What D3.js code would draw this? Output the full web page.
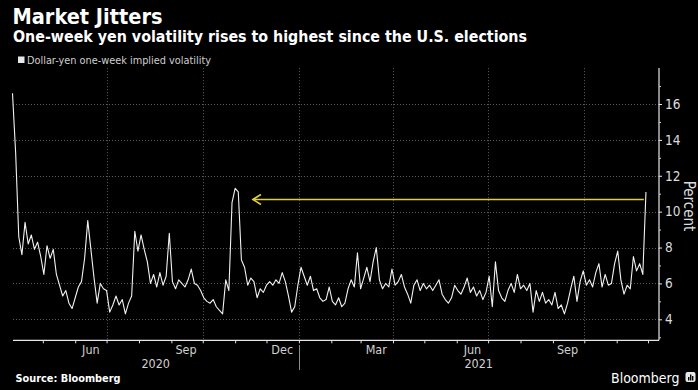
<!DOCTYPE html>
<html><head><meta charset="utf-8">
<script src="https://cdn.jsdelivr.net/npm/d3@7"></script>
<style>
html,body{margin:0;padding:0;background:#000;}
svg{display:block;}
</style></head><body>
<svg id="c" width="698" height="390"></svg>
<script>
const title = "Market Jitters";
const subtitle = "One-week yen volatility rises to highest since the U.S. elections";
const legendLabel = "Dollar-yen one-week implied volatility";
const sourceText = "Source: Bloomberg";
const brandText = "Bloomberg";
const yAxisTitle = "Percent";

// series: one reading every 3 calendar days starting 2020-04-02
const startDate = "2020-04-02";
const stepDays = 3;
const vol = [
16.6,13.3,8.6,7.6,9.4,8.2,8.7,7.9,8.3,7.5,
6.5,8.1,7.4,7.9,6.5,5.9,5.3,5.6,4.9,4.6,
5.2,5.8,6.1,7.4,9.5,7.9,6.3,4.9,6.0,5.7,
5.6,4.4,4.8,5.3,4.8,5.1,4.3,4.9,5.3,8.9,
7.8,8.7,7.9,7.2,6.0,6.5,5.8,6.6,5.9,6.4,
8.8,6.1,5.7,6.2,6.0,5.8,6.2,6.8,6.0,5.9,
5.6,5.2,5.0,4.9,5.1,4.7,4.5,4.3,6.2,5.6,
10.5,11.3,11.1,7.3,6.9,5.9,6.3,6.1,5.2,5.7,
5.5,5.9,6.1,5.9,6.2,6.0,6.6,6.1,5.3,4.4,
4.7,5.9,6.9,6.4,5.9,6.4,5.6,5.7,5.2,5.0,
5.1,5.8,5.0,4.8,5.2,4.7,4.9,5.7,6.2,5.8,
7.7,5.7,6.3,6.9,6.1,7.2,8.0,6.2,5.7,6.0,
5.8,6.8,5.9,6.1,6.5,5.8,5.4,4.9,5.9,6.2,
5.6,6.0,5.7,5.9,5.6,5.9,6.2,5.4,5.1,4.9,
5.2,5.9,5.6,5.4,5.8,6.3,5.5,5.8,5.3,5.6,
5.1,5.5,6.4,4.7,7.2,5.6,5.2,5.0,5.6,6.0,
5.5,6.5,5.7,5.9,5.6,6.0,4.4,5.6,5.0,5.5,
4.9,5.1,4.8,5.5,4.6,4.8,4.3,4.9,5.7,6.4,
5.0,6.1,6.7,5.9,6.2,5.8,6.6,7.1,5.8,6.5,
5.9,6.0,7.1,7.8,6.2,5.4,5.9,5.7,7.5,6.7,
7.1,6.5,11.1
];

const yTickValues = [4,6,8,10,12,14,16];
const yMinorValues = [3,5,7,9,11,13,15,17];
const monthLabels = ["Jun","Sep","Dec","Mar","Jun","Sep"];
const monthLabelDates = ["2020-06-16","2020-09-15","2020-12-16","2021-03-16","2021-06-16","2021-09-15"];
const quarterDates = ["2020-07-01","2020-10-01","2021-01-01","2021-04-01","2021-07-01","2021-10-01"];
const yearLabels = ["2020","2021"];
const yearStarts = ["2020-04-02","2021-01-01"];
const yearEnds = ["2021-01-01","2021-12-11"];
const arrowLevel = 10.68;
const arrowHeadDate = "2020-11-18";
const arrowTailDate = "2021-11-27";

const parse = d3.utcParse("%Y-%m-%d");
const t0 = parse(startDate);
const data = vol.map((v,i)=>({date: d3.utcDay.offset(t0, i*stepDays), value: v}));

const svg = d3.select("#c");
const W = 698, H = 390;
svg.append("rect").attr("width",W).attr("height",H).attr("fill","#000");

const x = d3.scaleUtc().domain([parse("2020-04-02"), parse("2021-12-11")]).range([12.5, 658.5]);
const y = d3.scaleLinear().domain([4,16]).range([319.3,104]);
const plotTop = y(18), plotBottom = 340.3, plotLeft = 13, plotRight = 659;

const condensed = "'Liberation Sans Narrow','DejaVu Sans Condensed','Arial Narrow',sans-serif";
function fit(sel, w){
  const L = sel.node().getComputedTextLength();
  if (Math.abs(L - w) > 0.5) sel.attr("textLength", w).attr("lengthAdjust","spacingAndGlyphs");
  return sel;
}

// gridlines
const grid = svg.append("g").attr("stroke","#5c5c5c").attr("stroke-width",1).attr("stroke-dasharray","1,2");
grid.selectAll("line.h").data(yTickValues).join("line")
  .attr("x1",plotLeft).attr("x2",plotRight)
  .attr("y1",d=>Math.round(y(d))+0.5).attr("y2",d=>Math.round(y(d))+0.5);
grid.selectAll("line.v").data(quarterDates).join("line")
  .attr("x1",d=>Math.round(x(parse(d)))+0.5).attr("x2",d=>Math.round(x(parse(d)))+0.5)
  .attr("y1",plotTop).attr("y2",plotBottom);

// series line
const line = d3.line().x(d=>x(d.date)).y(d=>y(d.value));
svg.append("path").datum(data).attr("d",line)
  .attr("fill","none").attr("stroke","#f2f2f2").attr("stroke-width",1.1).attr("stroke-linejoin","round");

// arrow
const ay = y(arrowLevel);
const ax1 = x(parse(arrowHeadDate)), ax2 = x(parse(arrowTailDate));
const arrowG = svg.append("g").attr("stroke","#e0cf3c").attr("stroke-width",1.6).attr("fill","none");
arrowG.append("line").attr("x1",ax1).attr("x2",ax2).attr("y1",ay).attr("y2",ay);
arrowG.append("path").attr("d",`M${ax1+8},${ay-5} L${ax1},${ay} L${ax1+8},${ay+5}`);

// x axis
const xAxisG = svg.append("g").attr("transform",`translate(0,${plotBottom})`)
  .call(d3.axisBottom(x).ticks(d3.utcMonth.every(1)).tickSize(3).tickFormat(""));
xAxisG.select(".domain").remove();
xAxisG.selectAll("line").attr("stroke","#e6e6e6");
svg.append("line").attr("x1",plotLeft).attr("x2",plotRight).attr("y1",plotBottom).attr("y2",plotBottom)
  .attr("stroke","#e6e6e6").attr("stroke-width",1.2);

svg.append("g").selectAll("text").data(monthLabels).join("text")
  .attr("x",(d,i)=>x(parse(monthLabelDates[i]))).attr("y",353.8)
  .attr("text-anchor","middle").attr("fill","#d0d0d0")
  .style("font-family",condensed).style("font-size","12.5px").text(d=>d);
svg.append("g").selectAll("text").data(yearLabels).join("text")
  .attr("x",(d,i)=>(x(parse(yearStarts[i]))+x(parse(yearEnds[i])))/2).attr("y",367.5)
  .attr("text-anchor","middle").attr("fill","#d0d0d0")
  .style("font-family",condensed).style("font-size","12.5px").text(d=>d);
svg.append("line").attr("x1",Math.round(x(parse("2021-01-01")))+0.5).attr("x2",Math.round(x(parse("2021-01-01")))+0.5)
  .attr("y1",345).attr("y2",370).attr("stroke","#8a8a8a");

// y axis (right)
svg.append("line").attr("x1",plotRight).attr("x2",plotRight).attr("y1",plotTop).attr("y2",plotBottom)
  .attr("stroke","#e6e6e6").attr("stroke-width",1.2);
const yAxisG = svg.append("g").attr("transform",`translate(${plotRight},0)`)
  .call(d3.axisRight(y).tickValues(yTickValues).tickSize(3).tickPadding(3));
yAxisG.select(".domain").remove();
yAxisG.selectAll("line").attr("stroke","#e6e6e6");
yAxisG.selectAll("text").attr("fill","#dcdcdc").style("font-family",condensed).style("font-size","13.5px");
const yMinorG = svg.append("g").attr("transform",`translate(${plotRight},0)`)
  .call(d3.axisRight(y).tickValues(yMinorValues).tickSize(2).tickFormat(""));
yMinorG.select(".domain").remove();
yMinorG.selectAll("line").attr("stroke","#cfcfcf");

svg.append("text").attr("transform",`translate(684,206) rotate(90)`)
  .attr("text-anchor","middle").attr("fill","#dcdcdc")
  .style("font-family",condensed).style("font-size","15px").text(yAxisTitle);

// titles
fit(svg.append("text").attr("x",12.5).attr("y",23.5).attr("fill","#fff")
  .style("font-family",condensed).style("font-weight","bold").style("font-size","22px").text(title), 150);
fit(svg.append("text").attr("x",13).attr("y",41.8).attr("fill","#fff")
  .style("font-family",condensed).style("font-weight","bold").style("font-size","15.5px").text(subtitle), 514);

// legend
svg.append("rect").attr("x",18).attr("y",56.5).attr("width",6.5).attr("height",6.5).attr("fill","#e8e8e8");
fit(svg.append("text").attr("x",27).attr("y",63.5).attr("fill","#cfcfcf")
  .style("font-family",condensed).style("font-size","10.5px").text(legendLabel), 184);

// footer
fit(svg.append("text").attr("x",15.5).attr("y",382).attr("fill","#fff")
  .style("font-family",condensed).style("font-weight","bold").style("font-size","10.5px").text(sourceText), 105);
fit(svg.append("text").attr("x",611).attr("y",383).attr("fill","#fff")
  .style("font-family",condensed).style("font-size","14px").text(brandText), 68);
const logo = svg.append("g").attr("transform","translate(685.5,372)");
logo.append("rect").attr("width",10).attr("height",10).attr("rx",2).attr("fill","#e8e8e8");
logo.selectAll("rect.b").data([[2.5,5,1.4,3.5],[4.5,2.5,1.4,6],[6.5,4,1.4,4.5]]).join("rect")
  .attr("x",d=>d[0]).attr("y",d=>d[1]).attr("width",d=>d[2]).attr("height",d=>d[3]).attr("fill","#000");
</script>
</body></html>
